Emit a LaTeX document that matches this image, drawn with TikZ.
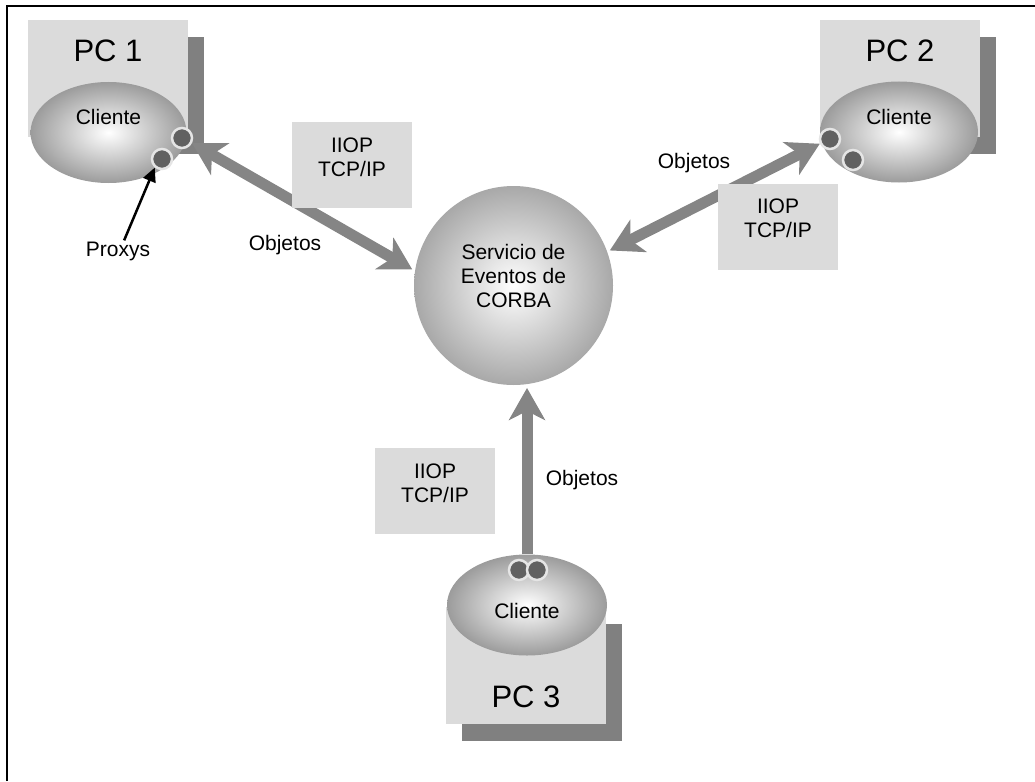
\documentclass[tikz,border=0pt]{standalone}
\usepackage{fontspec}
\setmainfont{Liberation Sans}
\usetikzlibrary{shapes.geometric,shadows,arrows.meta}

\definecolor{boxgray}{gray}{0.86}
\definecolor{shadegray}{gray}{0.5}
\definecolor{arrowgray}{gray}{0.52}

\begin{document}
\begin{tikzpicture}[x=1pt,y=-1pt]
        \useasboundingbox (0,0) rectangle (1035,781);

        \edef\pcwidth{160pt}
        \edef\pcheight{117pt}
        \tikzstyle{every node}=[font=\fontsize{21}{24}\selectfont]
        \tikzstyle{lbl}=[inner sep=1pt]
        \tikzstyle{pclbl}=[inner sep=1pt,font=\fontsize{31}{36}\selectfont]
        \tikzstyle{pcbox}=[fill=boxgray,minimum width=\pcwidth,minimum height=\pcheight,inner sep=0pt,
            drop shadow={shadow xshift=16pt,shadow yshift=-17pt,fill=shadegray,opacity=1}]
        \tikzstyle{client}=[ellipse,minimum width=158pt,minimum height=101pt,inner sep=0pt,
            shade,shading=radial,inner color=white,outer color=gray!78]
        \tikzstyle{proxy}=[circle,minimum size=20pt,inner sep=0pt,fill=black!62,draw=gray!20,line width=2.5pt]
        \tikzstyle{corba}=[circle,minimum size=199pt,inner sep=0pt,outer sep=3pt,
            shade,shading=radial,inner color=white,outer color=gray!68]
        \tikzstyle{iiop}=[fill=boxgray,minimum width=120pt,minimum height=86pt,inner sep=0pt]
        \tikzstyle{flow}=[line width=11pt,draw=arrowgray,>={Stealth[length=32pt,width=36pt,inset=9pt]}]
        \tikzstyle{pointer}=[line width=2.5pt,-{Triangle[length=14pt,width=13pt]}]

        % frame, only left and top
        \draw[line width=2pt] (7,781) |- (1035,6);

        % the three PCs
        \node[pcbox] (pc1) at (108,78.5) {};
        \node[pcbox] (pc2) at (900,78.5) {};
        \node[pcbox] (pc3) at (526,665.5) {};
        \node[client,minimum width=156pt] (cli1) at (108.5,132.5) {};
        \node[client] (cli2) at (899,132) {};
        \node[client,minimum width=160pt] (cli3) at (527,605) {};

        % proxys
        \node[proxy] (px1a) at (182,138) {};
        \node[proxy] (px1b) at (162,159) {};
        \node[proxy] (px2a) at (830,139) {};
        \node[proxy] (px2b) at (853,160) {};
        \node[proxy] (px3a) at (519,570) {};
        \node[proxy] (px3b) at (537,570) {};

        \node[corba] (corba) at (513.5,285.5) {};

        \draw[flow,<->] (px1a.-27) -- (corba.171);                  % PC 1 <-> servicio
        \draw[flow,<->] (corba.20) -- (px2a.205);                   % servicio <-> PC 2
        \draw[flow,->] (cli3.north) -- (cli3.north |- corba.south); % PC 3 -> servicio

        \foreach \n/\x/\y in {1/352/165, 2/778/226.5, 3/435/491} {
            \node[iiop] (iiop\n) at (\x,\y) {};
            \node[lbl,align=center] (txt\n) at ([yshift=8pt]iiop\n.center) {IIOP\\TCP/IP};
        };

        \node[pclbl] (pc1txt) at ([yshift=-31pt]pc1.north) {PC 1};
        \node[pclbl] (pc2txt) at ([yshift=-31.5pt]pc2.north) {PC 2};
        \node[pclbl] (pc3txt) at ([yshift=27pt]pc3.south) {PC 3};
        \node[lbl] (cl1txt) at ([yshift=16pt]cli1.center) {Cliente};
        \node[lbl] (cl2txt) at ([yshift=15pt]cli2.center) {Cliente};
        \node[lbl] (cl3txt) at ([yshift=-5.5pt]cli3.center) {Cliente};
        \node[lbl,align=center] (corbatxt) at ([yshift=9.5pt]corba.center) {Servicio de\\Eventos de\\CORBA};

        \node[lbl,anchor=base] (obj1) at (285,250) {Objetos};
        \node[lbl,anchor=base] (obj2) at (694,168.5) {Objetos};
        \node[lbl,anchor=base] (obj3) at (582,485) {Objetos};

        \node[lbl,anchor=base] (proxys) at (118,256) {Proxys};
        \draw[pointer] (proxys.60) -- (px1b.230);   % Proxys -> proxy

\end{tikzpicture}
\end{document}
